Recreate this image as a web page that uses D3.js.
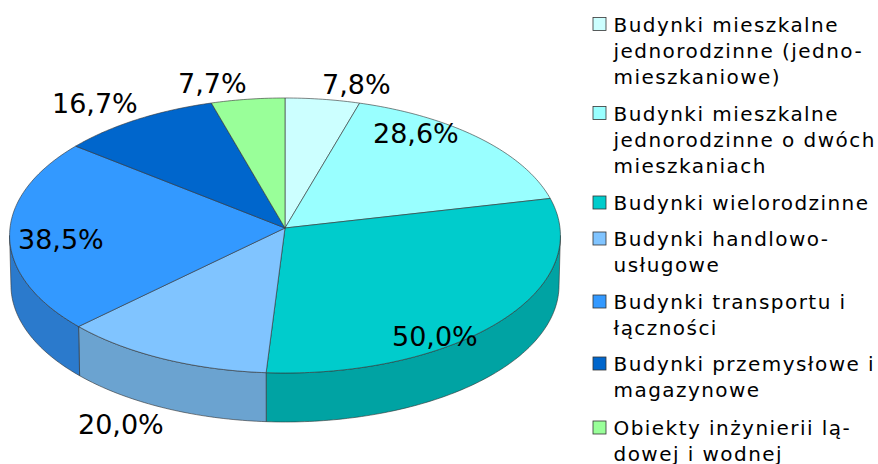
<!DOCTYPE html>
<html>
<head>
<meta charset="utf-8">
<script src="https://d3js.org/d3.v7.min.js"></script>
<style>
    html, body { margin: 0; padding: 0; background: #fff; }
    text { font-family: "DejaVu Sans", sans-serif; fill: #000; }
</style>
</head>
<body>
<svg id="vis"></svg>
<script>
    // values as printed on the slices (they do not add up to 100)
    const values = [7.8, 28.6, 50.0, 20.0, 38.5, 16.7, 7.7];
    const valueLabels = ["7,8%", "28,6%", "50,0%", "20,0%", "38,5%", "16,7%", "7,7%"];
    const categories = [
        ["Budynki mieszkalne", "jednorodzinne (jedno-", "mieszkaniowe)"],
        ["Budynki mieszkalne", "jednorodzinne o dwóch", "mieszkaniach"],
        ["Budynki wielorodzinne"],
        ["Budynki handlowo-", "usługowe"],
        ["Budynki transportu i", "łączności"],
        ["Budynki przemysłowe i", "magazynowe"],
        ["Obiekty inżynierii lą-", "dowej i wodnej"]
    ];

    const topColors = ["#ccffff", "#99ffff", "#00cccc", "#80c4ff", "#3399ff", "#0066cc", "#99ff99"];
    const sideColors = ["#a3cccc", "#7acccc", "#00a3a3", "#6ba3d0", "#2b7acc", "#0052a3", "#7acc7a"];

    // hand placed, the original labels sit wherever the editor left them
    const labelPos = [[322, 94], [373, 143], [392, 346], [78, 434], [18, 249], [52, 113], [178, 93]];
    const legendY = [31.5, 120.5, 210, 246, 309, 371, 435];

    const width = 878, height = 464;
    const cx = 285, cy = 228, R = 275, ry = 137.1, k = -0.0545, depth = 49.7, bottomScale = 0.995;

    let svg = d3.select("#vis").attr("width", width).attr("height", height)
        .style("display", "block");

    // the disc is drawn in perspective, centre of the pie is not centre of the ellipse
    function project(t, dy = 0, s = 1) {
        let u = Math.sin(t), v = -Math.cos(t), w = 1 + k * v;
        return [cx + s * R * u / w, cy + s * ry * v / w + dy];
    }

    function arcPoints(a0, a1, dy = 0, s = 1) {
        let n = Math.max(2, Math.ceil((a1 - a0) * 60));
        return d3.range(n + 1).map(i => project(a0 + (a1 - a0) * i / n, dy, s));
    }

    let line = d3.line();
    let arcs = d3.pie().sort(null)(values);

    // front wall only runs between the two points where the outline turns back
    let wallStart = Math.acos(k), wallEnd = 2 * Math.PI - Math.acos(k);

    arcs.forEach((d, i) => {
        let a0 = Math.max(d.startAngle, wallStart), a1 = Math.min(d.endAngle, wallEnd);
        if (a1 <= a0) return;
        let pts = arcPoints(a0, a1).concat(arcPoints(a0, a1, depth, bottomScale).reverse());
        svg.append("path")
            .attr("d", line(pts) + "Z")
            .attr("fill", sideColors[i])
            .attr("stroke", "#333")
            .attr("stroke-width", 0.6);
    });

    arcs.forEach((d, i) => {
        let pts = [[cx, cy]].concat(arcPoints(d.startAngle, d.endAngle));
        svg.append("path")
            .attr("d", line(pts) + "Z")
            .attr("fill", topColors[i])
            .attr("stroke", "#333")
            .attr("stroke-width", 0.6);
    });

    svg.selectAll(".value")
        .data(valueLabels)
        .join("text")
        .attr("class", "value")
        .attr("x", (d, i) => labelPos[i][0])
        .attr("y", (d, i) => labelPos[i][1])
        .attr("font-size", 27)
        .text(d => d);

    let legend = svg.selectAll(".legend")
        .data(categories)
        .join("g")
        .attr("class", "legend")
        .attr("transform", (d, i) => `translate(593,${legendY[i]})`);

    legend.append("rect")
        .attr("y", -14)
        .attr("width", 13)
        .attr("height", 13)
        .attr("fill", (d, i) => topColors[i])
        .attr("stroke", "#333")
        .attr("stroke-width", 0.8);

    legend.selectAll("text")
        .data(d => d)
        .join("text")
        .attr("x", 20.5)
        .attr("y", (d, i) => i * 26.3)
        .attr("font-size", 20)
        .attr("letter-spacing", 1.45)
        .text(d => d);
</script>
</body>
</html>
